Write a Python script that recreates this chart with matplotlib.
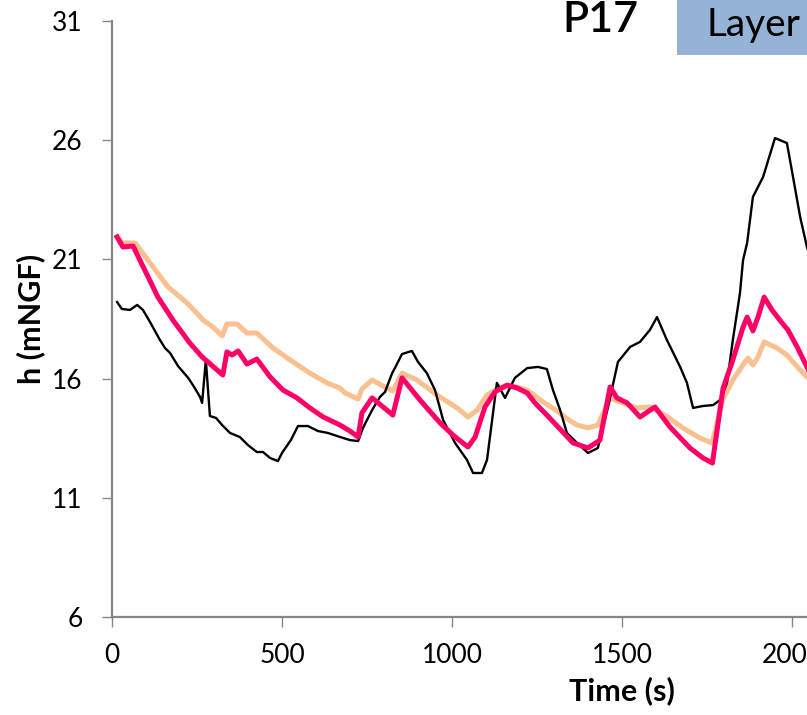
import matplotlib
matplotlib.use('Agg')
import matplotlib.pyplot as plt
from matplotlib.patches import Rectangle

plt.rcParams['font.family'] = ['Lato', 'DejaVu Sans']

# ---- black trace ----
t_black = [15, 29, 53, 74, 91, 112, 141, 156, 171, 194, 224, 238, 259, 265, 276, 288,
           306, 324, 347, 376, 400, 426, 444, 465, 488, 500, 526, 547, 576, 606, 635,
           671, 700, 724, 738, 765, 788, 803, 824, 832, 853, 882, 900, 926, 950, 974,
           1009, 1044, 1062, 1088, 1103, 1132, 1156, 1185, 1221, 1253, 1279, 1297, 1318,
           1338, 1368, 1400, 1429, 1459, 1488, 1524, 1553, 1582, 1603, 1632, 1671, 1691,
           1709, 1738, 1768, 1788, 1809, 1826, 1847, 1856, 1868, 1885, 1915, 1950, 1985,
           2003, 2024, 2044, 2060]
h_black = [19.21, 18.92, 18.88, 19.09, 18.88, 18.37, 17.62, 17.28, 17.07, 16.53, 16.03,
           15.73, 15.23, 14.98, 16.78, 14.43, 14.35, 14.05, 13.72, 13.55, 13.21, 12.92,
           12.92, 12.67, 12.54, 12.88, 13.42, 14.01, 14.01, 13.80, 13.72, 13.55, 13.42,
           13.38, 13.93, 14.68, 15.23, 15.44, 16.23, 16.44, 17.03, 17.16, 16.70, 16.23,
           15.52, 14.26, 13.30, 12.59, 12.04, 12.04, 12.59, 15.82, 15.19, 16.03, 16.44,
           16.49, 16.40, 15.52, 14.68, 13.72, 13.30, 12.88, 13.09, 14.81, 16.70, 17.33,
           17.54, 18.04, 18.58, 17.62, 16.49, 15.82, 14.77, 14.85, 14.89, 15.10, 15.82,
           17.62, 19.59, 20.97, 21.69, 23.62, 24.46, 26.09, 25.88, 24.46, 22.78, 21.52,
           20.80]

# ---- pink trace ----
t_pink = [15, 32, 62, 82, 135, 179, 229, 265, 282, 326, 338, 353, 371, 397, 426, 465,
          503, 544, 582, 621, 671, 700, 724, 735, 765, 794, 826, 853, 906, 965, 1003,
          1047, 1068, 1097, 1126, 1162, 1191, 1221, 1244, 1279, 1318, 1356, 1400, 1435,
          1465, 1485, 1515, 1553, 1597, 1641, 1700, 1738, 1766, 1797, 1826, 1856, 1868,
          1885, 1900, 1918, 1941, 1971, 1988, 2015, 2044, 2060]
h_pink = [21.94, 21.52, 21.56, 20.97, 19.42, 18.46, 17.49, 16.91, 16.70, 16.15, 17.12,
          16.99, 17.16, 16.61, 16.82, 16.07, 15.52, 15.19, 14.77, 14.39, 14.05, 13.80,
          13.55, 14.56, 15.19, 14.85, 14.47, 16.03, 15.10, 14.14, 13.63, 13.13, 13.55,
          14.81, 15.44, 15.73, 15.61, 15.40, 14.98, 14.47, 13.88, 13.30, 13.09, 13.42,
          15.65, 15.19, 14.98, 14.39, 14.81, 13.97, 13.09, 12.67, 12.46, 15.58, 16.78,
          18.16, 18.58, 18.00, 18.58, 19.42, 18.88, 18.33, 18.04, 17.33, 16.49, 16.00]

# ---- orange trace ----
t_orange = [15, 32, 68, 112, 165, 221, 268, 297, 324, 338, 368, 397, 426, 474, 524, 582,
            632, 671, 685, 724, 735, 765, 797, 826, 853, 897, 956, 1015, 1047, 1074, 1103,
            1141, 1191, 1221, 1268, 1308, 1340, 1368, 1400, 1429, 1465, 1494, 1544, 1582,
            1626, 1679, 1729, 1765, 1797, 1826, 1862, 1871, 1885, 1900, 1918, 1956, 1985,
            2024, 2044, 2060]
h_orange = [21.94, 21.69, 21.69, 20.85, 19.84, 19.17, 18.46, 18.16, 17.79, 18.29, 18.29,
            17.91, 17.91, 17.28, 16.78, 16.23, 15.82, 15.60, 15.40, 15.14, 15.56, 15.94,
            15.69, 15.48, 16.23, 15.94, 15.31, 14.77, 14.39, 14.68, 15.31, 15.65, 15.65,
            15.52, 15.02, 14.65, 14.30, 14.05, 13.93, 14.05, 15.19, 15.02, 14.77, 14.81,
            14.47, 13.93, 13.51, 13.30, 15.15, 15.94, 16.70, 16.86, 16.57, 16.91, 17.54,
            17.28, 16.99, 16.36, 16.07, 15.85]

y_ticks = [6, 11, 16, 21, 26, 31]
x_ticks = [0, 500, 1000, 1500, 2000, 2500, 3000]

GREY = '#868686'

fig = plt.figure(figsize=(8.07, 7.15), dpi=100)
ax = fig.add_axes([112 / 807, 98 / 715, 1020 / 807, 596 / 715])

ax.plot(t_orange, h_orange, color='#FAC090', lw=3.6, solid_joinstyle='round', zorder=2)
ax.plot(t_black, h_black, color='black', lw=1.7, zorder=3)
ax.plot(t_pink, h_pink, color='#FF0066', lw=3.6, solid_joinstyle='round', zorder=4)

ax.set_xlim(0, 3000)
ax.set_ylim(6, 31)
ax.set_xticks(x_ticks)
ax.set_yticks(y_ticks)

for side in ['top', 'right']:
    ax.spines[side].set_visible(False)
for side in ['left', 'bottom']:
    ax.spines[side].set_color(GREY)
    ax.spines[side].set_linewidth(1.6)
ax.tick_params(axis='both', direction='out', length=7, width=1.0, color=GREY,
               labelsize=19)
ax.tick_params(axis='y', pad=14)
ax.tick_params(axis='x', pad=12)

ax.set_xlabel('Time (s)', fontsize=22, fontweight='bold')
ax.xaxis.set_label_coords(0.5, -0.1)
ax.set_ylabel('h (mNGF)', fontsize=22, fontweight='bold')
ax.yaxis.set_label_coords(-0.066, 0.5)

# header
fig.text(600 / 807, 1 - 20 / 715, 'P17', ha='center', va='center',
         fontsize=31, fontweight='semibold')
fig.patches.append(Rectangle((677 / 807, 1 - 55 / 715), 1 - 677 / 807, 55 / 715,
                             transform=fig.transFigure, facecolor='#95B3D7',
                             edgecolor='none', zorder=0))
fig.text(707 / 807, 1 - 25 / 715, 'Layer', ha='left', va='center', fontsize=28)

fig.savefig('out.png', dpi=100)
